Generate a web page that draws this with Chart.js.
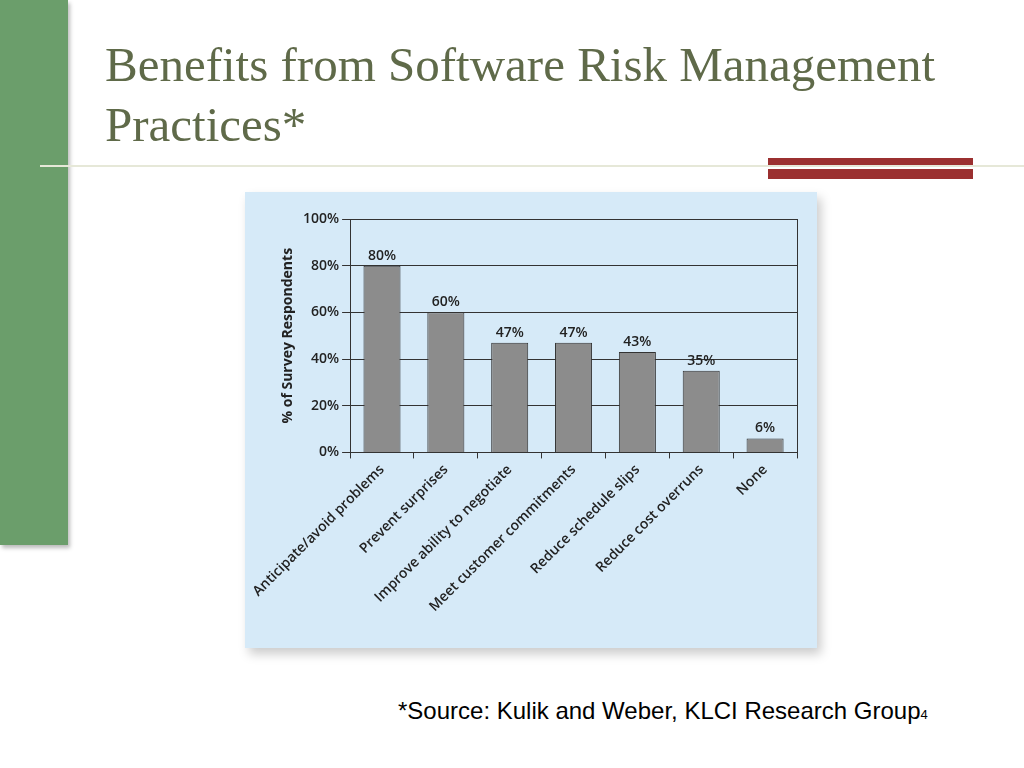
<!DOCTYPE html>
<html>
<head>
<meta charset="UTF-8">
<title>Benefits from Software Risk Management Practices</title>
<script src="https://cdn.jsdelivr.net/npm/chart.js"></script>
<style>
    body { margin: 0; width: 1024px; height: 768px; background: #fff; position: relative; overflow: hidden; }
    .side { position: absolute; left: 0; top: 0; width: 68px; height: 545px; background: #6b9e6b; box-shadow: 2px 3px 4px #bbb; }
    .title { position: absolute; left: 105px; top: 35px; font: 49px "Liberation Serif", serif; color: #5f6a49; line-height: 60px; }
    .rule { position: absolute; left: 40px; top: 165px; width: 984px; height: 2px; background: #e6e8d8; }
    .red1 { position: absolute; left: 768px; top: 158px; width: 205px; height: 7px; background: #9b3030; }
    .red2 { position: absolute; left: 768px; top: 169px; width: 205px; height: 10px; background: #9b3030; }
    .panel { position: absolute; left: 245px; top: 192px; width: 572px; height: 456px; background: #d6eaf8; box-shadow: 4px 6px 10px #ccc; }
    .source { position: absolute; left: 398px; top: 697px; font: 24px "Liberation Sans", sans-serif; color: #000; }
    .source small { font-size: 13px; }
</style>
</head>
<body>
<div class="side"></div>
<div class="title">Benefits from Software Risk Management<br>Practices*</div>
<div class="rule"></div>
<div class="red1"></div>
<div class="red2"></div>
<div class="panel"><canvas id="grafico" width="572" height="456"></canvas></div>
<div class="source">*Source: Kulik and Weber, KLCI Research Group<small>4</small></div>

<script>
    const categorias = ['Anticipate/avoid problems', 'Prevent surprises', 'Improve ability to negotiate',
        'Meet customer commitments', 'Reduce schedule slips', 'Reduce cost overruns', 'None'];
    const valores = [80, 60, 47, 47, 43, 35, 6];
    const rotulos = ['80%', '60%', '47%', '47%', '43%', '35%', '6%'];

    const rotulosPlugin = {
        id: 'rotulos',
        afterDatasetsDraw(chart) {
            const ctx = chart.ctx;
            const area = chart.chartArea;
            ctx.save();
            ctx.strokeStyle = '#333';
            ctx.lineWidth = 1;
            ctx.beginPath();
            ctx.moveTo(area.right + 0.5, area.top);
            ctx.lineTo(area.right + 0.5, area.bottom);
            ctx.stroke();
            ctx.font = '600 14px "Open Sans", sans-serif';
            ctx.fillStyle = '#222';
            ctx.textAlign = 'center';
            ctx.textBaseline = 'bottom';
            chart.getDatasetMeta(0).data.forEach(function (bar, i) {
                ctx.fillText(rotulos[i], bar.x, bar.y - 3);
            });
            ctx.restore();
        }
    };

    new Chart(document.getElementById('grafico'), {
        type: 'bar',
        data: {
            labels: categorias,
            datasets: [{
                data: valores,
                backgroundColor: '#8c8c8c',
                borderColor: '#333',
                borderWidth: 1,
                categoryPercentage: 0.58,
                barPercentage: 1
            }]
        },
        options: {
            responsive: false,
            animation: false,
            layout: { padding: { top: 27, right: 20, left: 30, bottom: 30 } },
            plugins: { legend: { display: false }, tooltip: { enabled: false } },
            scales: {
                x: {
                    grid: { display: true, drawOnChartArea: false, color: '#333', tickLength: 6, offset: true },
                    border: { color: '#333' },
                    ticks: { color: '#222', font: { size: 14, family: 'Open Sans', weight: '600' }, maxRotation: 45, minRotation: 45 }
                },
                y: {
                    min: 0, max: 100,
                    ticks: { stepSize: 20, color: '#222', font: { size: 14, family: 'Open Sans', weight: '600' }, callback: v => v + '%' },
                    grid: { color: '#333' },
                    border: { color: '#333' },
                    title: { display: true, text: '% of Survey Respondents', color: '#222', font: { size: 14, weight: 'bold', family: 'Open Sans' } }
                }
            }
        },
        plugins: [rotulosPlugin]
    });
</script>
</body>
</html>
